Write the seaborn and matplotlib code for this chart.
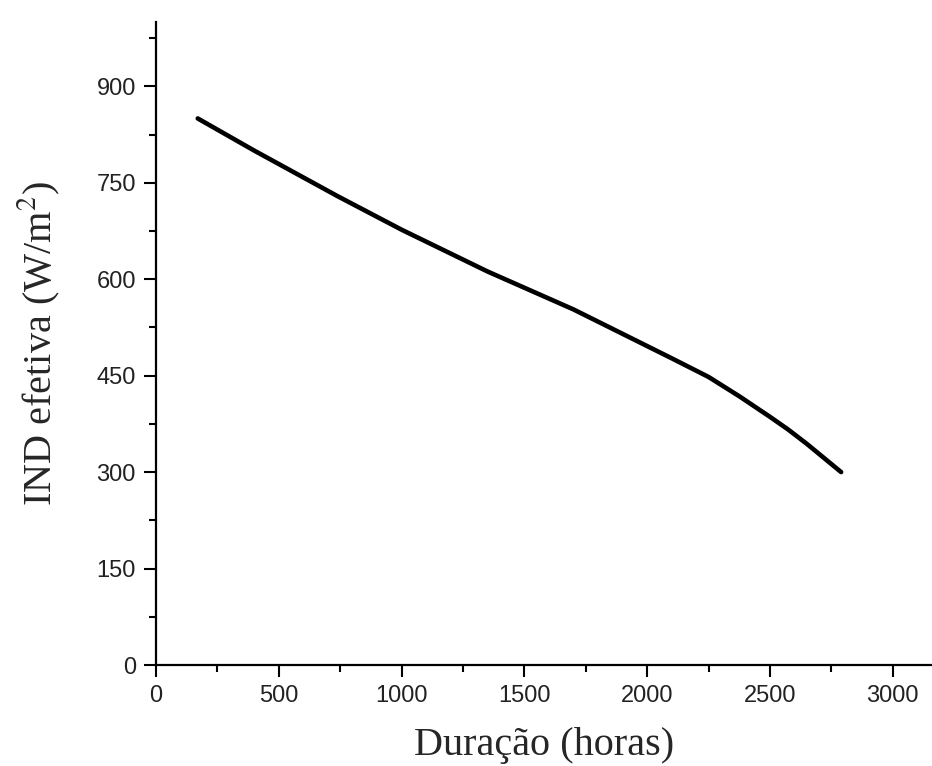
import numpy as np
import pandas as pd
import matplotlib
matplotlib.use("Agg")
import matplotlib.pyplot as plt
from matplotlib.ticker import MultipleLocator
import seaborn as sns

# Effective irradiance versus lamp operating time
duracao_horas = [170, 400, 740, 1000, 1350, 1700, 2000, 2100, 2250, 2375,
                 2500, 2575, 2650, 2720, 2790]
ind_efetiva = [850, 800, 729, 677, 612, 553, 496, 477, 448, 418,
               386, 366, 344, 322, 300]

df = pd.DataFrame({"Duração (horas)": duracao_horas, "IND efetiva": ind_efetiva})

sns.set_theme(style="ticks")
plt.rcParams["font.family"] = ["Liberation Sans", "DejaVu Sans"]
plt.rcParams["mathtext.fontset"] = "stix"

fig = plt.figure(figsize=(9.32, 7.66), dpi=100)
ax = fig.add_axes([156 / 932, 101 / 766, 776 / 932, 643 / 766])

sns.lineplot(data=df, x="Duração (horas)", y="IND efetiva", ax=ax,
             color="black", linewidth=3.3, solid_capstyle="round",
             solid_joinstyle="round")

ax.set_xlim(0, 3160)
ax.set_ylim(0, 1000)
ax.xaxis.set_major_locator(MultipleLocator(500))
ax.xaxis.set_minor_locator(MultipleLocator(250))
ax.yaxis.set_major_locator(MultipleLocator(150))
ax.yaxis.set_minor_locator(MultipleLocator(75))
ax.set_yticks([0, 150, 300, 450, 600, 750, 900])

for side in ("top", "right"):
    ax.spines[side].set_visible(False)
for side in ("left", "bottom"):
    ax.spines[side].set_linewidth(1.6)
    ax.spines[side].set_color("black")

ax.tick_params(which="major", direction="out", length=8.5, width=1.5,
               color="black", labelsize=17, labelcolor="#222222", pad=6)
ax.tick_params(which="minor", direction="out", length=4.7, width=1.5,
               color="black")

ax.set_xlabel("Duração (horas)", family=["Liberation Serif", "DejaVu Serif"],
              fontsize=29)
ax.set_ylabel("IND efetiva (W/m$^{2}$)", family=["Liberation Serif", "DejaVu Serif"],
              fontsize=29)
ax.xaxis.set_label_coords(0.5, -0.097)
ax.yaxis.set_label_coords(-0.121, 0.5)

fig.savefig("out.png", dpi=100, facecolor="white")
